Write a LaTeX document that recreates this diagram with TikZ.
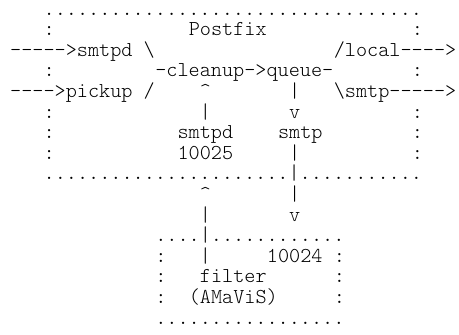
\documentclass[tikz,border=0pt]{standalone}
\usepackage{fontspec}

\begin{document}
\begin{tikzpicture}[x=11.16pt,y=-20.6pt]
    \providecommand{\asciifont}{\ttfamily\fontseries{l}\fontsize{21.2pt}{20.6pt}\selectfont}
    \tikzset{asciitext/.style={anchor=base west,inner sep=0pt,font=\asciifont}}
    \useasboundingbox (-10pt,-5.6pt) rectangle (449pt,-340.6pt);
    % Postfix frame
    \node[asciitext] (posttop) at (3,1) {..................................};
    \node[asciitext] (postl2) at (3,2) {:};
    \node[asciitext] (postfix) at (16,2) {Postfix};
    \node[asciitext] (postr2) at (36,2) {:};
    \node[asciitext] (smtpdin) at (0,3) {----->smtpd \textbackslash};
    \node[asciitext] (localout) at (29,3) {/local---->};
    \node[asciitext] (postl4) at (3,4) {:};
    \node[asciitext] (cleanup) at (13,4) {-cleanup->queue-};
    \node[asciitext] (postr4) at (36,4) {:};
    \node[asciitext] (pickupin) at (0,5) {---->pickup /};
    \node[asciitext] (uparrowa) at (17,5) {\textasciicircum};
    \node[asciitext] (downbara) at (25,5) {|};
    \node[asciitext] (smtpout) at (29,5) {\textbackslash smtp----->};
    \node[asciitext] (postl6) at (3,6) {:};
    \node[asciitext] (upbara) at (17,6) {|};
    \node[asciitext] (downarrowa) at (25,6) {v};
    \node[asciitext] (postr6) at (36,6) {:};
    \node[asciitext] (postl7) at (3,7) {:};
    \node[asciitext] (smtpdback) at (15,7) {smtpd};
    \node[asciitext] (smtpfilter) at (24,7) {smtp};
    \node[asciitext] (postr7) at (36,7) {:};
    \node[asciitext] (postl8) at (3,8) {:};
    \node[asciitext] (portback) at (15,8) {10025};
    \node[asciitext] (downbarb) at (25,8) {|};
    \node[asciitext] (postr8) at (36,8) {:};
    \node[asciitext] (postbottom) at (3,9) {......................|...........};
    % between the frames
    \node[asciitext] (uparrowb) at (17,10) {\textasciicircum};
    \node[asciitext] (downbarc) at (25,10) {|};
    \node[asciitext] (upbarb) at (17,11) {|};
    \node[asciitext] (downarrowb) at (25,11) {v};
    % filter frame
    \node[asciitext] (filtertop) at (13,12) {....|............};
    \node[asciitext] (filterl13) at (13,13) {:};
    \node[asciitext] (upbarc) at (17,13) {|};
    \node[asciitext] (portfilter) at (23,13) {10024};
    \node[asciitext] (filterr13) at (29,13) {:};
    \node[asciitext] (filterl14) at (13,14) {:};
    \node[asciitext] (filtername) at (17,14) {filter};
    \node[asciitext] (filterr14) at (29,14) {:};
    \node[asciitext] (filterl15) at (13,15) {:};
    \node[asciitext] (amavis) at (16,15) {(AMaViS)};
    \node[asciitext] (filterr15) at (29,15) {:};
    \node[asciitext] (filterbottom) at (13,16) {.................};
\end{tikzpicture}
\end{document}
